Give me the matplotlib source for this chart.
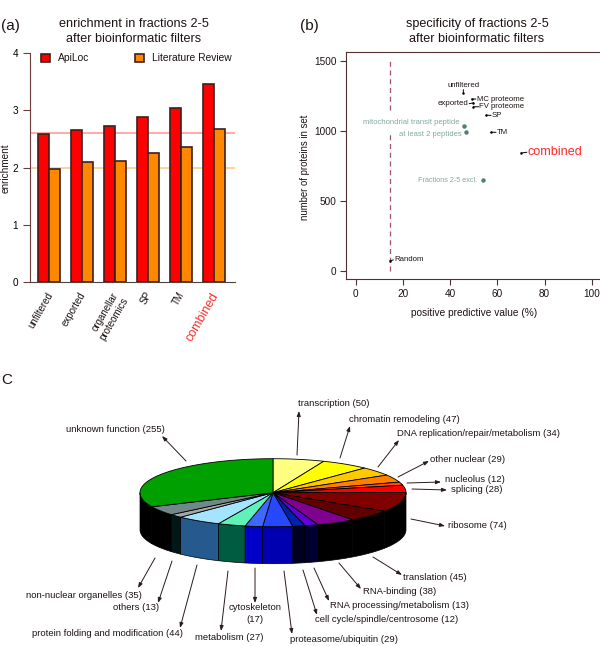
#!/usr/bin/env python
import numpy as np
import matplotlib as mpl
mpl.use('Agg')
import matplotlib.pyplot as plt
from matplotlib.patches import Polygon

mpl.rcParams['font.family'] = 'Liberation Sans'

# (a) enrichment
filters = ['unfiltered', 'exported', 'organellar\nproteomics', 'SP', 'TM', 'combined']
apiloc = [2.58, 2.66, 2.72, 2.88, 3.05, 3.47]
literature = [1.98, 2.10, 2.12, 2.25, 2.36, 2.68]

# (b) specificity
spec_names = ['unfiltered', 'exported', 'MC proteome', 'FV proteome', 'SP', 'TM',
              'combined', 'mitochondrial transit peptide', 'at least 2 peptides',
              'Fractions 2-5 excl.', 'Random']
spec_ppv = [45.6, 49.9, 49.1, 49.9, 55.2, 57.3, 70.0, 45.8, 46.9, 54.1, 14.5]
spec_count = [1270, 1200, 1227, 1172, 1111, 990, 842, 1035, 990, 648, 75]
random_ppv = 14.4

# C pie, clockwise from the top
pie_names = ['transcription', 'chromatin remodeling', 'DNA replication/repair/metabolism',
             'other nuclear', 'nucleolus', 'splicing', 'ribosome', 'translation',
             'RNA-binding', 'RNA processing/metabolism', 'cell cycle/spindle/centrosome',
             'proteasome/ubiquitin', 'cytoskeleton', 'metabolism',
             'protein folding and modification', 'others', 'non-nuclear organelles',
             'unknown function']
pie_counts = [50, 47, 34, 29, 12, 28, 74, 45, 38, 13, 12, 29, 17, 27, 44, 13, 35, 255]

top_colors = ['#ffff80', '#ffff00', '#ffc800', '#ff8000', '#ff5000', '#ff0000', '#800000',
              '#600000', '#800090', '#6000d8', '#0020b0', '#2848ff', '#4068ff', '#60f0b8',
              '#a4e4ff', '#a0a8a8', '#708888', '#00a000']
side_colors = ['k'] * 9 + ['#000030', '#000020', '#0000b0', '#0000c8', '#005c40',
                           '#265a8e', '#001818', 'k', 'k']

# label left edge, label centre y, arrow start, arrow end (all in picture pixels)
pie_layout = [
    (298, 404, (297, 455), (299, 411)),
    (349, 419, (340, 458), (350, 426)),
    (397, 434, (378, 467), (399, 440)),
    (430, 459, (398, 477), (429, 461)),
    (445, 480, (407, 483), (441, 482)),
    (451, 490, (412, 489), (447, 490)),
    (448, 526, (411, 519), (445, 526)),
    (403, 577, (373, 557), (402, 575)),
    (363, 591, (339, 563), (361, 589)),
    (330, 606, (314, 568), (329, 601)),
    (315, 620, (303, 570), (317, 615)),
    (290, 640, (284, 571), (292, 634)),
    (228, 608, (255, 568), (255, 603)),
    (195, 637, (228, 571), (221, 631)),
    (32, 634, (197, 565), (180, 628)),
    (113, 608, (172, 561), (158, 603)),
    (26, 595, (155, 558), (138, 588)),
    (66, 430, (186, 461), (162, 436)),
]

W, H = 600, 646
TEXT = '#1e1212'
BROWN = '#6e3a3a'


def axes_px(left, top, right, bottom):
    return fig.add_axes([left / W, 1 - bottom / H, (right - left) / W, (bottom - top) / H])


def draw_pie(ax, cx, cy, rx, ry, depth):
    edges = np.cumsum([0] + pie_counts) / sum(pie_counts) * 2 * np.pi
    # side wall first, only the front half shows
    for a, b, color in zip(edges[:-1], edges[1:], side_colors):
        lo, hi = max(a, np.pi / 2), min(b, 3 * np.pi / 2)
        if lo >= hi:
            continue
        t = np.linspace(lo, hi, 60)
        xs = cx + rx * np.sin(t)
        ys = cy - ry * np.cos(t)
        pts = np.r_[np.c_[xs, ys], np.c_[xs, ys + depth][::-1]]
        ax.add_patch(Polygon(pts, fc=color, ec='k', lw=0.5))
    for a, b, color in zip(edges[:-1], edges[1:], top_colors):
        t = np.linspace(a, b, 80)
        pts = np.c_[cx + rx * np.sin(t), cy - ry * np.cos(t)]
        pts = np.r_[[[cx, cy]], pts]
        ax.add_patch(Polygon(pts, fc=color, ec='k', lw=0.6))


fig = plt.figure(figsize=(W / 100, H / 100), dpi=100)

# panel a
ax1 = axes_px(29.5, 53.3, 235, 282)
pos = np.arange(len(filters))
ax1.axhline(2.6, color='#ff9c9c', lw=1.2, zorder=1)
ax1.axhline(1.99, color='#ffcc88', lw=1.2, zorder=1)
b1 = ax1.bar(pos - 1 / 6, apiloc, 1 / 3, color='#ff0000', ec='#3c2020', lw=1.2, zorder=2,
             label='ApiLoc')
b2 = ax1.bar(pos + 1 / 6, literature, 1 / 3, color='#ff8800', ec='#3c2020', lw=1.2, zorder=2,
             label='Literature Review')
ax1.set_xlim(-0.6, 5.63)
ax1.set_ylim(0, 4)
ax1.set_yticks([0, 1, 2, 3, 4])
ax1.tick_params(axis='y', labelsize=7.2, length=5, width=0.8, color=BROWN, pad=3, labelcolor='k')
ax1.set_xticks(pos - 0.1)
ax1.set_xticklabels(filters, rotation=60, ha='right', rotation_mode='anchor', fontsize=7,
                    color=TEXT, linespacing=1.1)
ax1.tick_params(axis='x', length=0, pad=6)
ax1.get_xticklabels()[-1].set_color('#ff2a2a')
ax1.get_xticklabels()[-1].set_fontsize(9)
for s in ['top', 'right']:
    ax1.spines[s].set_visible(False)
ax1.spines['left'].set_color(BROWN)
ax1.spines['bottom'].set_color('#504040')
ax1.legend(handles=[b1, b2], ncol=2, frameon=False, loc='upper left',
           bbox_to_anchor=(0.01, 1.04), fontsize=7.4, handlelength=0.9, handleheight=0.9,
           handletextpad=0.8, columnspacing=4.4, labelcolor=TEXT)

# panel b
ax2 = axes_px(346, 52, 600, 279)
ax2.set_xlim(-4.1, 103.5)
ax2.set_ylim(-55, 1562)
ax2.vlines(random_ppv, 0, 1000, color='#a05070', lw=0.9, ls=(0, (4, 3)))
ax2.vlines(random_ppv, 1150, 1500, color='#a05070', lw=0.9, ls=(0, (4, 3)))
GREY = '#82a8a2'
# label offset in pixels, alignment, size, colour per point
offsets = {'unfiltered': ((0, 4), 'center', 'bottom', 5.6, TEXT),
           'exported': ((-5, -1), 'right', 'center', 5.7, TEXT),
           'MC proteome': ((5, 0), 'left', 'center', 5.6, TEXT),
           'FV proteome': ((6, 0), 'left', 'center', 5.6, TEXT),
           'SP': ((6, 0), 'left', 'center', 5.6, TEXT),
           'TM': ((6, 0), 'left', 'center', 5.6, TEXT),
           'combined': ((7, 1), 'left', 'center', 9.1, '#ff2a2a'),
           'mitochondrial transit peptide': ((-4, 3), 'right', 'center', 5.5, GREY),
           'at least 2 peptides': ((-5, -2), 'right', 'center', 5.5, GREY),
           'Fractions 2-5 excl.': ((-6, 0), 'right', 'center', 5.2, GREY),
           'Random': ((4, 1), 'left', 'center', 5.6, TEXT)}
for name, x, y in zip(spec_names, spec_ppv, spec_count):
    off, ha, va, size, color = offsets[name]
    teal = color == GREY
    ax2.plot(x, y, 'o', ms=3.2 if teal else 1.8, color='#4f7f78' if teal else 'k', mew=0)
    ax2.annotate(name, xy=(x, y), xytext=off, textcoords='offset pixels', ha=ha, va=va,
                 fontsize=size, color=color)
    if not teal:
        stub = (off[0] * 0.85, off[1] * 0.85)
        ax2.annotate('', xy=(x, y), xytext=stub, textcoords='offset pixels',
                     arrowprops=dict(arrowstyle='-', color='k', lw=0.7, shrinkA=0, shrinkB=0))
ax2.set_xticks([0, 20, 40, 60, 80, 100])
ax2.set_yticks([0, 500, 1000, 1500])
ax2.tick_params(labelsize=7.2, length=4, width=0.8, color='#503030', labelcolor=TEXT, pad=3)
ax2.spines['right'].set_visible(False)
for s in ['top', 'left', 'bottom']:
    ax2.spines[s].set_color('#503030')

# overlay in picture pixels for the pie and loose text
ov = fig.add_axes([0, 0, 1, 1], zorder=5)
ov.set_xlim(0, W)
ov.set_ylim(H, 0)
ov.axis('off')

ov.text(134, 24, 'enrichment in fractions 2-5', ha='center', va='center', fontsize=9.1, color=TEXT)
ov.text(134, 39, 'after bioinformatic filters', ha='center', va='center', fontsize=9.1, color=TEXT)
ov.text(477, 24, 'specificity of fractions 2-5', ha='center', va='center', fontsize=9.1, color=TEXT)
ov.text(477, 39, 'after bioinformatic filters', ha='center', va='center', fontsize=9.1, color=TEXT)
ov.text(1, 26, '(a)', ha='left', va='center', fontsize=11, color=TEXT)
ov.text(300, 26, '(b)', ha='left', va='center', fontsize=11, color=TEXT)
ov.text(1, 380, 'C', ha='left', va='center', fontsize=11, color=TEXT)
ov.text(6, 168, 'enrichment', rotation=90, ha='center', va='center', fontsize=7.2, color=TEXT)
ov.text(305, 167, 'number of proteins in set', rotation=90, ha='center', va='center',
        fontsize=6.9, color=TEXT)
ov.text(474, 313, 'positive predictive value (%)', ha='center', va='center', fontsize=7.3,
        color=TEXT)

draw_pie(ov, 273, 492.7, 133, 34, 37)
for name, count, (lx, ly, start, end) in zip(pie_names, pie_counts, pie_layout):
    label = f'{name} ({count})'
    if name == 'cytoskeleton':
        ov.text(255, ly, name, ha='center', va='center', fontsize=6.8, color=TEXT)
        ov.text(255, ly + 12, f'({count})', ha='center', va='center', fontsize=6.8, color=TEXT)
    else:
        ov.text(lx, ly, label, ha='left', va='center', fontsize=6.8, color=TEXT)
    ov.annotate('', xy=end, xytext=start,
                arrowprops=dict(arrowstyle='-|>,head_length=0.3,head_width=0.11', color='#2a1a1a',
                                lw=0.7, shrinkA=0, shrinkB=0))

fig.savefig('out.png', dpi=100)
